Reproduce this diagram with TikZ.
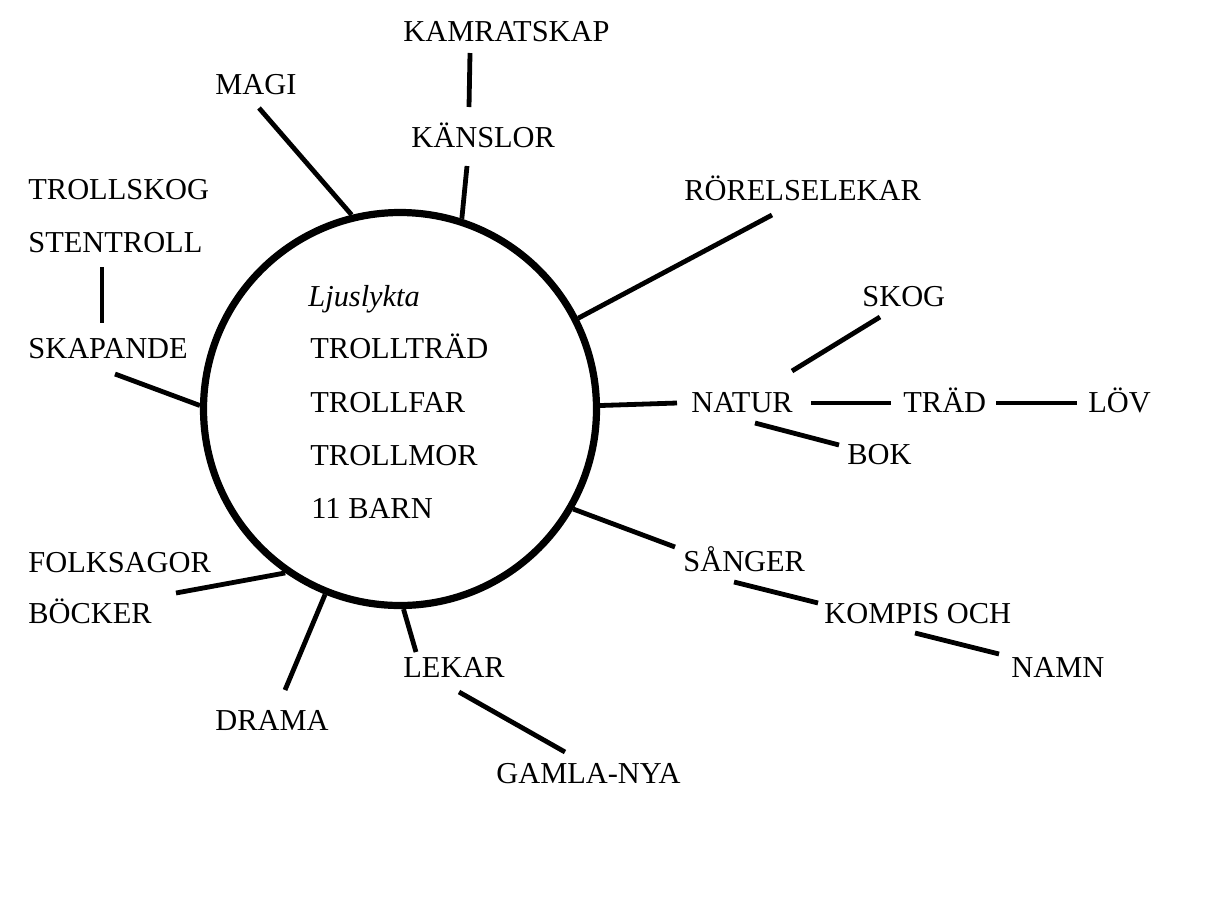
\documentclass[tikz,border=0pt]{standalone}
\usepackage{fontspec}
\setmainfont{Liberation Serif}
\usetikzlibrary{calc}

\tikzset{
	word/.style={anchor=base west, inner sep=0pt, font=\fontsize{15.2}{18}\selectfont},
	spoke/.style={line width=2.4pt},
	hubring/.style={circle, draw, line width=3.6pt, minimum size=196.5pt, inner sep=0pt}
}

\begin{document}
\begin{tikzpicture}[x=0.5pt, y=-0.5pt]
		
		\useasboundingbox (0,0) rectangle (1213,906);
		
		\node [hubring] (hub) at (400,409) {};
		
		% inside the ring
		\node [word] (ljus) at (308,306) {\textit{Ljuslykta}};
		\node [word] (tradtroll) at (310,358) {TROLLTRÄD};
		\node [word] (far) at (310,412) {TROLLFAR};
		\node [word] (mor) at (310,465) {TROLLMOR};
		\node [word] (barn) at (311,518) {11 BARN};
		
		% words round the ring
		\node [word] (kamrat) at (403,41) {KAMRATSKAP};
		\node [word] (kanslor) at (411,147) {KÄNSLOR};
		\node [word] (magi) at (215,94) {MAGI};
		\node [word] (trollskog) at (28,199) {TROLLSKOG};
		\node [word] (stentroll) at (28,252) {STENTROLL};
		\node [word] (skapande) at (28,358) {SKAPANDE};
		\node [word] (rorelse) at (684,200) {RÖRELSELEKAR};
		\node [word] (skog) at (862,306) {SKOG};
		\node [word] (natur) at (691,412) {NATUR};
		\node [word] (trad) at (903,412) {TRÄD};
		\node [word] (lov) at (1088,412) {LÖV};
		\node [word] (bok) at (847,464) {BOK};
		\node [word] (sanger) at (683,571) {SÅNGER};
		\node [word] (kompis) at (824,623) {KOMPIS OCH};
		\node [word] (namn) at (1011,677) {NAMN};
		\node [word] (folk) at (28,572) {FOLKSAGOR};
		\node [word] (bocker) at (28,623) {BÖCKER};
		\node [word] (drama) at (215,730) {DRAMA};
		\node [word] (lekar) at (403,677) {LEKAR};
		\node [word] (gamla) at (496,783) {GAMLA-NYA};
		
		% top
		\draw [spoke] ($(kamrat.base west)+(67,12)$) -- ($(kanslor.base west)+(58,-40)$);
		\draw [spoke] ($(kanslor.base west)+(56,19)$) -- (hub.72);
		\draw [spoke] ($(magi.base west)+(44,14)$) -- (hub.104.5);
		
		% left
		\draw [spoke] ($(stentroll.base west)+(74,15)$) -- ($(skapande.base west)+(74,-35)$);
		\draw [spoke] ($(skapande.base west)+(87,16)$) -- (hub.179);
		\draw [spoke] ($(bocker.base west)+(148,-30)$) -- (hub.-125.8);
		
		% right
		\draw [spoke] ($(rorelse.base west)+(88,15)$) -- (hub.27.6);
		\draw [spoke] (hub.1.5) -- ($(natur.base west)+(-14,-9)$);
		\draw [spoke] ($(natur.base west)+(101,-41)$) -- ($(skog.base west)+(18,11)$);
		\draw [spoke] ($(natur.base west)+(120,-9)$) -- ($(trad.base west)+(-12,-9)$);
		\draw [spoke] ($(trad.base west)+(93,-9)$) -- ($(lov.base west)+(-11,-9)$);
		\draw [spoke] ($(natur.base west)+(64,11)$) -- ($(bok.base west)+(-8,-19)$);
		\draw [spoke] (hub.-30.9) -- ($(sanger.base west)+(-8,-24)$);
		\draw [spoke] ($(sanger.base west)+(51,11)$) -- ($(kompis.base west)+(-6,-20)$);
		\draw [spoke] ($(kompis.base west)+(91,10)$) -- ($(namn.base west)+(-12,-23)$);
		
		% bottom
		\draw [spoke] (hub.-112) -- ($(drama.base west)+(70,-40)$);
		\draw [spoke] (hub.-89) -- ($(lekar.base west)+(13,-25)$);
		\draw [spoke] ($(lekar.base west)+(56,15)$) -- ($(gamla.base west)+(69,-31)$);
		
\end{tikzpicture}
\end{document}
